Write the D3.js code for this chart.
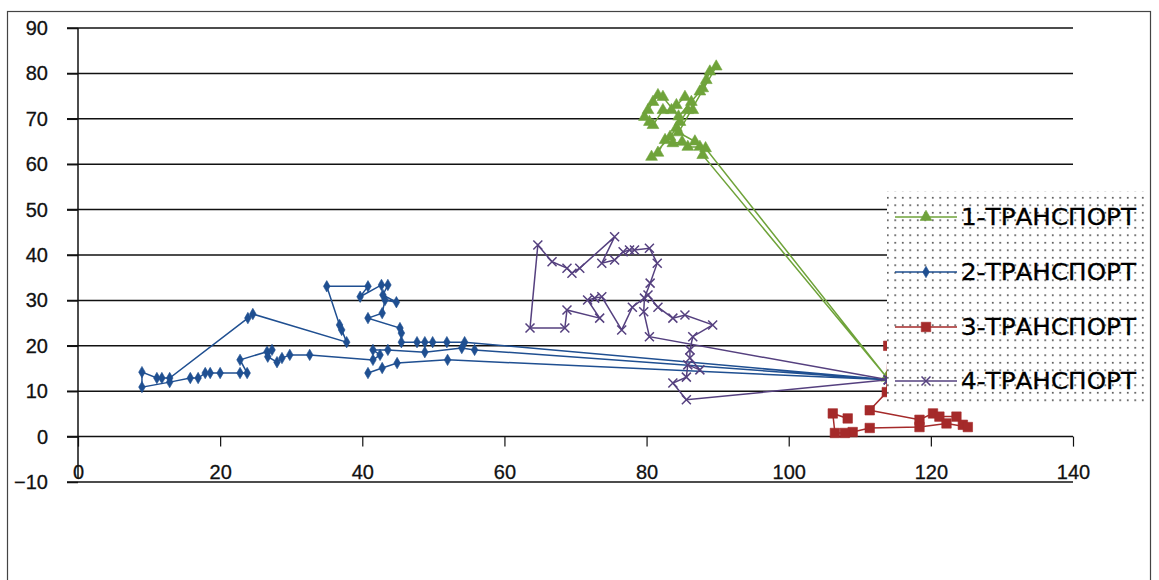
<!DOCTYPE html>
<html>
<head>
<meta charset="utf-8">
<script src="https://cdn.jsdelivr.net/npm/d3@7"></script>
<style>
  body { margin: 0; background: #fff; }
  svg { display: block; font-family: "DejaVu Sans", Verdana, sans-serif; }
</style>
</head>
<body>
<div id="chart"></div>
<script>
// Series names as in the legend
const seriesNames = ['1-ТРАНСПОРТ', '2-ТРАНСПОРТ', '3-ТРАНСПОРТ', '4-ТРАНСПОРТ'];

// Axis ticks
const xTicks = [0, 20, 40, 60, 80, 100, 120, 140];
const yTicks = [-10, 0, 10, 20, 30, 40, 50, 60, 70, 80, 90];

// Route points [x, y] (some sit under the legend)
const transport1 = [
  [113.8, 13], [87.9, 62], [87.5, 63.8], [85.8, 63.8], [85, 64.9], [83.7, 64.6],
  [82.6, 65.3], [81.6, 62.5], [80.7, 61.6], [83.3, 66], [84.2, 68], [84.7, 69.3],
  [85.8, 71.9], [86.5, 71.9], [86.3, 73.7], [85.4, 74.8], [84.2, 73], [83.5, 71.9],
  [82.3, 71.9], [80.9, 68.6], [80.4, 69.3], [79.7, 70.4], [80.2, 71.9], [80.9, 73.7],
  [81.6, 75.2], [82.3, 74.8], [84.5, 70.5], [87.5, 76], [87.9, 76.7], [88.4, 78.5],
  [88.9, 80.4], [89.8, 81.5], [84.5, 67], [86.8, 65], [88.3, 63.5], [113.8, 13]
];

const transport2 = [
  [114, 12.5], [54.4, 20.8], [51.9, 20.8], [49.9, 20.8], [48.8, 20.8], [47.7, 20.8],
  [45.5, 20.8], [45.5, 22.8], [45.3, 23.9], [40.8, 26.1], [42.8, 27.2], [43.2, 30.1],
  [44.8, 29.6], [42.9, 31.2], [43.6, 33.4], [42.7, 33.4], [39.7, 30.8], [40.8, 33.1],
  [35, 33.1], [36.8, 24.6], [37.1, 23.5], [37.8, 20.8], [24.6, 27], [23.9, 26.1],
  [12.9, 12.9], [11.8, 12.9], [11.1, 12.9], [9, 14.2], [9, 10.9], [12.9, 12],
  [15.8, 12.9], [16.9, 12.9], [17.9, 14], [18.6, 14], [20, 14], [22.8, 14],
  [23.8, 14], [22.8, 16.9], [26.6, 18.7], [27.3, 19.1], [26.7, 17.6], [28, 16.4],
  [28.7, 17.3], [29.8, 18], [32.6, 18], [41.5, 16.9], [42.5, 18], [41.5, 19.1],
  [43.6, 19.1], [48.8, 18.6], [54, 19.5], [55.8, 19.1], [114, 12.5], [52, 16.9],
  [44.9, 16.2], [42.8, 15.1], [40.8, 14]
];

const transport3 = [
  [114, 20], [113.8, 9.8], [111.4, 5.8], [118.4, 3.7], [120.3, 5.1], [121.2, 4.4],
  [123.6, 4.4], [124.5, 2.6], [125.2, 2.1], [122.2, 2.9], [118.4, 2.1], [111.4, 1.9],
  [109, 1], [107.9, 0.8], [106.5, 0.8], [106.2, 5.1], [108.3, 4]
];

const transport4 = [
  [114, 12.5], [80.4, 22], [79.6, 27.5], [79.7, 30.5], [80.5, 33.8], [81.5, 38.2],
  [80.4, 41.5], [78.3, 41.1], [77.6, 41.1], [76.7, 40.7], [75.5, 38.9], [73.7, 38.2],
  [75.5, 44], [70.6, 37.1], [69.5, 36], [68.8, 37.1], [66.7, 38.5], [64.7, 42.2],
  [63.6, 23.9], [68.5, 23.9], [68.8, 27.9], [73.4, 26.1], [71.7, 30.1], [72.7, 30.5],
  [73.7, 30.8], [76.5, 23.5], [78, 28.5], [80.2, 31.2], [81.6, 28.5], [83.7, 26.1],
  [85.4, 26.8], [89.3, 24.6], [86.5, 22], [86.1, 19.1], [86.1, 17.3], [87.5, 14.7],
  [85.8, 15.8], [85.6, 13.1], [83.7, 11.8], [85.6, 8.1], [114, 12.5]
];

const seriesData = [transport1, transport2, transport3, transport4];
const seriesColors = ['#6fa33a', '#1f4f91', '#a52a2a', '#55407f'];
const seriesMarkers = ['triangle', 'diamond', 'square', 'x'];

const W = 1159, H = 580;
const svg = d3.select('#chart').append('svg')
  .attr('width', W)
  .attr('height', H);

// chart border
svg.append('rect')
  .attr('x', 7.5).attr('y', 11.5)
  .attr('width', 1143).attr('height', 620)
  .attr('fill', '#fff')
  .attr('stroke', '#444')
  .attr('stroke-width', 1.2);

const xScale = d3.scaleLinear().domain([0, 140]).range([78, 1073]);
const yScale = d3.scaleLinear().domain([-10, 90]).range([482, 28]);

// horizontal gridlines (start at the tick mark left of the axis)
svg.append('g')
  .selectAll('line')
  .data(yTicks)
  .join('line')
  .attr('x1', 67)
  .attr('x2', xScale(140))
  .attr('y1', d => yScale(d))
  .attr('y2', d => yScale(d))
  .attr('stroke', '#111')
  .attr('stroke-width', 1.5);

// y axis
const yAxis = d3.axisLeft(yScale)
  .tickValues(yTicks)
  .tickSize(11)
  .tickPadding(19);
const yAxisGroup = svg.append('g')
  .attr('transform', `translate(${xScale(0)},0)`)
  .call(yAxis);
yAxisGroup.select('.domain').remove();
yAxisGroup.selectAll('.tick line').attr('stroke', '#111').attr('stroke-width', 1.5);
yAxisGroup.selectAll('text')
  .style('font-size', '20px')
  .style('fill', '#111')
  .style('stroke', '#111')
  .style('stroke-width', 0.3);

svg.append('line')
  .attr('x1', xScale(0)).attr('x2', xScale(0))
  .attr('y1', yScale(90)).attr('y2', 478)
  .attr('stroke', '#111')
  .attr('stroke-width', 1.5);

// x axis sits on the zero line
const xAxis = d3.axisBottom(xScale)
  .tickValues(xTicks)
  .tickSize(10)
  .tickPadding(18);
const xAxisGroup = svg.append('g')
  .attr('transform', `translate(0,${yScale(0)})`)
  .call(xAxis);
xAxisGroup.select('.domain').remove();
xAxisGroup.selectAll('.tick line').attr('stroke', '#111').attr('stroke-width', 1.2);
xAxisGroup.selectAll('text')
  .style('font-size', '20px')
  .style('fill', '#111')
  .style('stroke', '#111')
  .style('stroke-width', 0.3);

// marker drawing helper
function drawMarker(g, type, color, size) {
  if (type === 'x') {
    const s = size / 2;
    g.append('path')
      .attr('d', `M${-s},${-s}L${s},${s}M${-s},${s}L${s},${-s}`)
      .attr('stroke', color)
      .attr('stroke-width', 1.5)
      .attr('fill', 'none');
    return;
  }
  const sym = { triangle: d3.symbolTriangle, diamond: d3.symbolDiamond, square: d3.symbolSquare }[type];
  const area = { triangle: 60, diamond: 38, square: 90 }[type];
  g.append('path')
    .attr('d', d3.symbol().type(sym).size(area)())
    .attr('fill', color)
    .attr('stroke', color)
    .attr('stroke-width', 0.6);
}

const line = d3.line()
  .x(d => xScale(d[0]))
  .y(d => yScale(d[1]));

seriesData.forEach((pts, i) => {
  const g = svg.append('g').attr('class', 'series');
  g.append('path')
    .datum(pts)
    .attr('d', line)
    .attr('fill', 'none')
    .attr('stroke', seriesColors[i])
    .attr('stroke-width', 1.5);
  g.selectAll('.mk')
    .data(pts)
    .join('g')
    .attr('class', 'mk')
    .attr('transform', d => `translate(${xScale(d[0])},${yScale(d[1])})`)
    .each(function() { drawMarker(d3.select(this), seriesMarkers[i], seriesColors[i], 9); });
});

// legend with dotted fill
const defs = svg.append('defs');
const pat = defs.append('pattern')
  .attr('id', 'dots')
  .attr('patternUnits', 'userSpaceOnUse')
  .attr('width', 7.5)
  .attr('height', 7.5);
pat.append('rect').attr('width', 7.5).attr('height', 7.5).attr('fill', '#fff');
pat.append('rect').attr('x', 2).attr('y', 2).attr('width', 1.5).attr('height', 1.5).attr('fill', '#222');

const legend = svg.append('g');
legend.append('rect')
  .attr('x', 887).attr('y', 191)
  .attr('width', 257).attr('height', 214)
  .attr('fill', 'url(#dots)');

const legendY = [217, 272, 327, 381];
seriesNames.forEach((name, i) => {
  const row = legend.append('g').attr('transform', `translate(0,${legendY[i]})`);
  row.append('line')
    .attr('x1', 895).attr('x2', 957)
    .attr('stroke', seriesColors[i])
    .attr('stroke-width', 1.5);
  const mk = row.append('g').attr('transform', 'translate(926,0)');
  drawMarker(mk, seriesMarkers[i], seriesColors[i], 9);
  row.append('text')
    .attr('x', 961)
    .attr('y', 0)
    .attr('dy', '0.36em')
    .attr('textLength', 175)
    .attr('lengthAdjust', 'spacingAndGlyphs')
    .style('font-size', '23px')
    .style('fill', '#000')
    .style('stroke', '#000')
    .style('stroke-width', 0.3)
    .text(name);
});
</script>
</body>
</html>
